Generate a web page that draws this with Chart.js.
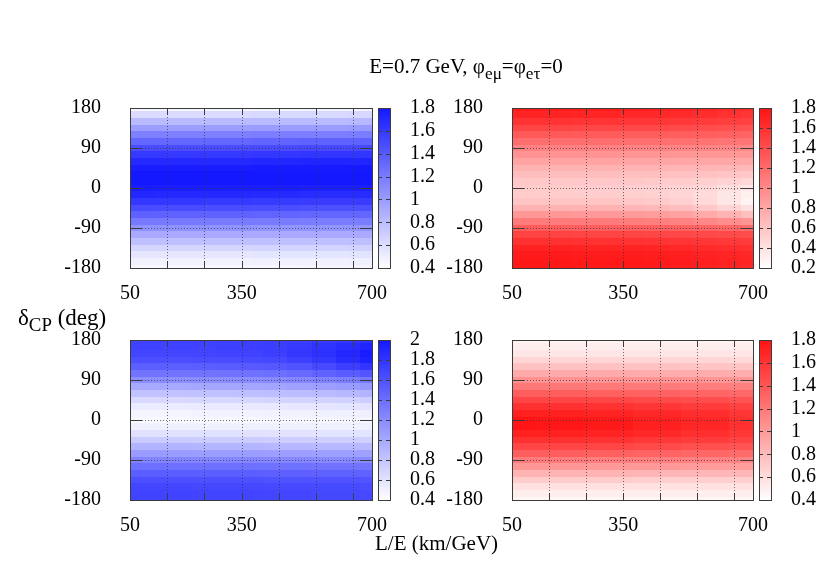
<!DOCTYPE html>
<html>
<head>
<meta charset="utf-8">
<script src="https://cdn.jsdelivr.net/npm/chart.js@4.4.0/dist/chart.umd.min.js"></script>
<style>
  body { margin: 0; background: #fff; }
  #wrap { position: relative; width: 830px; height: 581px; font-family: "Liberation Serif", "Times New Roman", serif; color: #000; }
  #wrap canvas { position: absolute; left: 0; top: 0; }
  .lbl { position: absolute; white-space: nowrap; line-height: 1; }
  .lbl sub { font-size: 82%; vertical-align: baseline; position: relative; top: 0.32em; }
</style>
</head>
<body>
<div id="wrap">
  <canvas id="tl" width="830" height="581"></canvas>
  <canvas id="tr" width="830" height="581"></canvas>
  <canvas id="bl" width="830" height="581"></canvas>
  <canvas id="br" width="830" height="581"></canvas>
  <div class="lbl" style="left:466px;top:56px;font-size:21px;transform:translateX(-50%)">E=0.7 GeV, φ<sub>eμ</sub>=φ<sub>eτ</sub>=0</div>
  <div class="lbl" style="left:18px;top:306px;font-size:23px">δ<sub>CP</sub> (deg)</div>
  <div class="lbl" style="left:375px;top:533px;font-size:21px">L/E (km/GeV)</div>
</div>
<script>
// L/E nodes (km/GeV) and delta_CP nodes (deg)
const xNodesCoarse = [50, 180, 310, 440, 570, 700];
const xNodesFine = [50, 115, 180, 245, 310, 375, 440, 505, 570, 635, 700];
const dcpNodes = [-180, -165, -150, -135, -120, -105, -90, -75, -60, -45, -30, -15, 0,
                  15, 30, 45, 60, 75, 90, 105, 120, 135, 150, 165, 180];

// axis ticks
const xTickValues = [50, 150, 250, 350, 450, 550, 650, 700];
const xTickLabels = [50, 350, 700];
const xGridValues = [150, 250, 350, 450, 550, 650];
const yTickValues = [-180, -90, 0, 90, 180];
const yGridValues = [-90, 0, 90];

// colorbar ticks
const cbTicksTL = [0.4, 0.6, 0.8, 1.0, 1.2, 1.4, 1.6, 1.8];
const cbTicksTR = [0.2, 0.4, 0.6, 0.8, 1.0, 1.2, 1.4, 1.6, 1.8];
const cbTicksBL = [0.4, 0.6, 0.8, 1.0, 1.2, 1.4, 1.6, 1.8, 2.0];
const cbTicksBR = [0.4, 0.6, 0.8, 1.0, 1.2, 1.4, 1.6, 1.8];

// values, one row per dcp node, columns follow the x nodes
const valuesTL = [
  [0.45, 0.45, 0.45, 0.45, 0.46, 0.46],
  [0.48, 0.48, 0.48, 0.49, 0.49, 0.50],
  [0.55, 0.55, 0.55, 0.56, 0.56, 0.57],
  [0.65, 0.65, 0.65, 0.66, 0.66, 0.67],
  [0.78, 0.78, 0.78, 0.78, 0.78, 0.79],
  [0.92, 0.92, 0.92, 0.92, 0.92, 0.92],
  [1.06, 1.06, 1.06, 1.05, 1.05, 1.05],
  [1.21, 1.21, 1.20, 1.20, 1.19, 1.19],
  [1.36, 1.35, 1.35, 1.34, 1.33, 1.33],
  [1.49, 1.49, 1.48, 1.47, 1.46, 1.46],
  [1.61, 1.61, 1.60, 1.59, 1.58, 1.58],
  [1.71, 1.70, 1.70, 1.69, 1.68, 1.68],
  [1.77, 1.77, 1.76, 1.76, 1.75, 1.75],
  [1.80, 1.80, 1.80, 1.80, 1.80, 1.80],
  [1.80, 1.80, 1.80, 1.81, 1.81, 1.81],
  [1.77, 1.77, 1.77, 1.78, 1.78, 1.79],
  [1.70, 1.70, 1.70, 1.71, 1.72, 1.72],
  [1.60, 1.60, 1.60, 1.61, 1.62, 1.62],
  [1.48, 1.48, 1.48, 1.49, 1.50, 1.50],
  [1.33, 1.33, 1.33, 1.34, 1.35, 1.35],
  [1.17, 1.17, 1.17, 1.18, 1.18, 1.19],
  [0.99, 0.99, 0.99, 1.00, 1.00, 1.01],
  [0.81, 0.81, 0.81, 0.82, 0.82, 0.83],
  [0.62, 0.62, 0.62, 0.63, 0.63, 0.64],
  [0.46, 0.46, 0.46, 0.46, 0.47, 0.47]
];

const valuesTR = [
  [1.76, 1.76, 1.76, 1.75, 1.75, 1.75, 1.74, 1.72, 1.70, 1.68, 1.66],
  [1.76, 1.76, 1.76, 1.75, 1.75, 1.75, 1.74, 1.73, 1.71, 1.69, 1.67],
  [1.74, 1.74, 1.74, 1.73, 1.73, 1.73, 1.72, 1.71, 1.69, 1.67, 1.65],
  [1.69, 1.69, 1.69, 1.68, 1.68, 1.68, 1.67, 1.66, 1.64, 1.62, 1.60],
  [1.60, 1.60, 1.60, 1.59, 1.59, 1.59, 1.58, 1.57, 1.56, 1.54, 1.52],
  [1.47, 1.47, 1.47, 1.46, 1.46, 1.46, 1.45, 1.44, 1.43, 1.42, 1.40],
  [1.30, 1.30, 1.30, 1.29, 1.29, 1.29, 1.28, 1.27, 1.25, 1.23, 1.20],
  [1.10, 1.10, 1.10, 1.09, 1.09, 1.08, 1.07, 1.05, 1.01, 0.97, 0.92],
  [0.90, 0.90, 0.90, 0.89, 0.89, 0.88, 0.86, 0.83, 0.78, 0.72, 0.64],
  [0.72, 0.72, 0.72, 0.71, 0.71, 0.70, 0.68, 0.64, 0.58, 0.50, 0.42],
  [0.60, 0.60, 0.60, 0.59, 0.59, 0.58, 0.56, 0.52, 0.46, 0.37, 0.28],
  [0.55, 0.55, 0.55, 0.54, 0.54, 0.53, 0.51, 0.48, 0.44, 0.37, 0.30],
  [0.55, 0.55, 0.55, 0.54, 0.54, 0.53, 0.52, 0.50, 0.47, 0.42, 0.37],
  [0.58, 0.58, 0.58, 0.58, 0.58, 0.57, 0.56, 0.55, 0.53, 0.50, 0.47],
  [0.64, 0.64, 0.64, 0.64, 0.64, 0.63, 0.63, 0.62, 0.61, 0.60, 0.58],
  [0.72, 0.72, 0.72, 0.72, 0.72, 0.71, 0.71, 0.70, 0.70, 0.69, 0.68],
  [0.82, 0.82, 0.82, 0.82, 0.82, 0.81, 0.81, 0.81, 0.80, 0.80, 0.79],
  [0.93, 0.93, 0.93, 0.93, 0.93, 0.92, 0.92, 0.91, 0.91, 0.90, 0.90],
  [1.05, 1.05, 1.05, 1.05, 1.05, 1.04, 1.04, 1.03, 1.03, 1.02, 1.01],
  [1.18, 1.18, 1.18, 1.18, 1.18, 1.17, 1.17, 1.16, 1.15, 1.14, 1.13],
  [1.32, 1.32, 1.32, 1.31, 1.31, 1.30, 1.30, 1.29, 1.28, 1.27, 1.25],
  [1.46, 1.46, 1.46, 1.45, 1.45, 1.44, 1.44, 1.42, 1.41, 1.39, 1.37],
  [1.58, 1.58, 1.58, 1.57, 1.57, 1.56, 1.56, 1.54, 1.52, 1.50, 1.48],
  [1.68, 1.68, 1.68, 1.67, 1.67, 1.66, 1.65, 1.63, 1.61, 1.59, 1.56],
  [1.74, 1.74, 1.74, 1.73, 1.73, 1.72, 1.71, 1.69, 1.67, 1.64, 1.61]
];

const valuesBL = [
  [1.70, 1.70, 1.70, 1.69, 1.69, 1.69, 1.68, 1.68, 1.67, 1.67, 1.66],
  [1.70, 1.70, 1.70, 1.69, 1.69, 1.69, 1.68, 1.68, 1.67, 1.67, 1.66],
  [1.68, 1.68, 1.68, 1.67, 1.67, 1.67, 1.66, 1.66, 1.65, 1.65, 1.64],
  [1.62, 1.62, 1.62, 1.61, 1.61, 1.61, 1.60, 1.60, 1.59, 1.59, 1.58],
  [1.52, 1.52, 1.52, 1.51, 1.51, 1.51, 1.50, 1.50, 1.49, 1.49, 1.48],
  [1.40, 1.40, 1.40, 1.39, 1.39, 1.39, 1.38, 1.38, 1.37, 1.37, 1.36],
  [1.25, 1.25, 1.25, 1.24, 1.24, 1.24, 1.23, 1.23, 1.22, 1.22, 1.21],
  [1.09, 1.09, 1.09, 1.08, 1.08, 1.08, 1.07, 1.07, 1.06, 1.06, 1.05],
  [0.92, 0.92, 0.92, 0.91, 0.91, 0.91, 0.90, 0.90, 0.89, 0.89, 0.88],
  [0.76, 0.76, 0.76, 0.75, 0.75, 0.75, 0.74, 0.74, 0.73, 0.73, 0.72],
  [0.61, 0.61, 0.61, 0.61, 0.61, 0.60, 0.60, 0.60, 0.59, 0.59, 0.59],
  [0.50, 0.50, 0.50, 0.50, 0.50, 0.50, 0.50, 0.50, 0.50, 0.50, 0.50],
  [0.45, 0.45, 0.45, 0.45, 0.45, 0.45, 0.46, 0.46, 0.46, 0.47, 0.47],
  [0.47, 0.47, 0.47, 0.48, 0.48, 0.48, 0.49, 0.49, 0.50, 0.50, 0.51],
  [0.54, 0.54, 0.54, 0.55, 0.55, 0.56, 0.56, 0.57, 0.58, 0.59, 0.60],
  [0.66, 0.66, 0.66, 0.67, 0.67, 0.68, 0.69, 0.70, 0.71, 0.72, 0.74],
  [0.82, 0.82, 0.82, 0.83, 0.83, 0.84, 0.85, 0.86, 0.88, 0.90, 0.92],
  [1.00, 1.00, 1.00, 1.01, 1.01, 1.02, 1.03, 1.05, 1.07, 1.09, 1.12],
  [1.18, 1.18, 1.18, 1.19, 1.19, 1.20, 1.22, 1.24, 1.27, 1.30, 1.34],
  [1.36, 1.36, 1.36, 1.37, 1.37, 1.38, 1.40, 1.43, 1.48, 1.53, 1.58],
  [1.51, 1.51, 1.51, 1.52, 1.53, 1.54, 1.56, 1.60, 1.66, 1.73, 1.80],
  [1.62, 1.62, 1.62, 1.63, 1.64, 1.65, 1.67, 1.72, 1.78, 1.86, 1.93],
  [1.68, 1.68, 1.68, 1.69, 1.70, 1.71, 1.73, 1.78, 1.83, 1.90, 1.97],
  [1.71, 1.71, 1.71, 1.71, 1.72, 1.73, 1.74, 1.77, 1.81, 1.86, 1.92],
  [1.71, 1.71, 1.71, 1.71, 1.72, 1.72, 1.73, 1.74, 1.76, 1.79, 1.82]
];

const valuesBR = [
  [0.45, 0.45, 0.45, 0.45, 0.45, 0.45],
  [0.50, 0.50, 0.50, 0.50, 0.50, 0.50],
  [0.58, 0.58, 0.58, 0.58, 0.58, 0.58],
  [0.70, 0.70, 0.70, 0.69, 0.69, 0.69],
  [0.85, 0.85, 0.85, 0.84, 0.83, 0.83],
  [1.02, 1.02, 1.01, 1.00, 0.99, 0.98],
  [1.18, 1.18, 1.17, 1.16, 1.15, 1.13],
  [1.35, 1.35, 1.34, 1.32, 1.30, 1.28],
  [1.50, 1.50, 1.49, 1.47, 1.44, 1.41],
  [1.62, 1.62, 1.61, 1.58, 1.55, 1.51],
  [1.72, 1.72, 1.70, 1.67, 1.63, 1.58],
  [1.78, 1.77, 1.75, 1.72, 1.68, 1.62],
  [1.78, 1.77, 1.75, 1.72, 1.68, 1.62],
  [1.72, 1.72, 1.70, 1.67, 1.64, 1.59],
  [1.62, 1.62, 1.61, 1.59, 1.56, 1.52],
  [1.50, 1.50, 1.49, 1.47, 1.45, 1.42],
  [1.35, 1.35, 1.34, 1.33, 1.31, 1.29],
  [1.20, 1.20, 1.19, 1.18, 1.17, 1.16],
  [1.05, 1.05, 1.04, 1.04, 1.03, 1.02],
  [0.90, 0.90, 0.90, 0.89, 0.89, 0.88],
  [0.76, 0.76, 0.76, 0.76, 0.75, 0.75],
  [0.64, 0.64, 0.64, 0.64, 0.64, 0.63],
  [0.55, 0.55, 0.55, 0.55, 0.55, 0.55],
  [0.50, 0.50, 0.50, 0.50, 0.50, 0.50],
  [0.47, 0.47, 0.47, 0.47, 0.47, 0.47]
];

const BLUE = [20, 24, 255];
const RED = [255, 18, 18];
const FRAME = '#3c3c3c';

Chart.defaults.font.family = '"Liberation Serif", "Times New Roman", serif';
Chart.defaults.font.size = 20;
Chart.defaults.color = '#000';

function shade(rgb, t) {
  t = Math.max(0, Math.min(1, t));
  const c = rgb.map(v => Math.round(255 + (v - 255) * t));
  return 'rgb(' + c.join(',') + ')';
}

// cell edges sit halfway between neighbouring nodes
function edges(nodes) {
  return nodes.map((n, i) => [
    i === 0 ? n : (nodes[i - 1] + n) / 2,
    i === nodes.length - 1 ? n : (n + nodes[i + 1]) / 2
  ]);
}

function toPoints(xNodes, values) {
  const xe = edges(xNodes), ye = edges(dcpNodes);
  const pts = [];
  dcpNodes.forEach((d, i) => {
    xNodes.forEach((x, j) => pts.push({
      x: x, y: d, v: values[i][j],
      x0: xe[j][0], x1: xe[j][1], y0: ye[i][0], y1: ye[i][1]
    }));
  });
  return pts;
}

// draws the cells of the map and the colorbar
const heatmapPlugin = {
  id: 'heatmap',
  beforeDatasetsDraw(chart, args, opts) {
    const ctx = chart.ctx;
    const xs = chart.scales.x, ys = chart.scales.y, cs = chart.scales.c;
    const span = cs.max - cs.min;
    ctx.save();
    chart.data.datasets[0].data.forEach(p => {
      const l = Math.round(xs.getPixelForValue(p.x0));
      const r = Math.round(xs.getPixelForValue(p.x1));
      const t = Math.round(ys.getPixelForValue(p.y1));
      const b = Math.round(ys.getPixelForValue(p.y0));
      ctx.fillStyle = shade(opts.rgb, (p.v - cs.min) / span);
      ctx.fillRect(l, t, r - l, b - t);
    });

    // colorbar
    const area = chart.chartArea;
    const cx0 = Math.round(area.right) + 6, cx1 = Math.round(area.right) + 18;
    const top = cs.getPixelForValue(cs.max), bot = cs.getPixelForValue(cs.min);
    const g = ctx.createLinearGradient(0, bot, 0, top);
    g.addColorStop(0, shade(opts.rgb, 0));
    g.addColorStop(1, shade(opts.rgb, 1));
    ctx.fillStyle = g;
    ctx.fillRect(cx0, top, cx1 - cx0, bot - top);
    ctx.strokeStyle = FRAME;
    ctx.lineWidth = 1;
    cs.ticks.forEach(tk => {
      const y = Math.round(cs.getPixelForValue(tk.value)) + 0.5;
      ctx.beginPath();
      ctx.moveTo(cx0, y); ctx.lineTo(cx0 + 4, y);
      ctx.moveTo(cx1, y); ctx.lineTo(cx1 - 4, y);
      ctx.stroke();
    });
    ctx.strokeRect(cx0 + 0.5, Math.round(top) + 0.5, cx1 - cx0, Math.round(bot - top));
    ctx.restore();
  },
  afterDatasetsDraw(chart) {
    const ctx = chart.ctx;
    const xs = chart.scales.x, ys = chart.scales.y;
    const a = chart.chartArea;
    ctx.save();
    ctx.lineWidth = 1;
    ctx.strokeStyle = 'rgba(50,50,60,0.7)';
    ctx.setLineDash([1, 2]);
    xGridValues.forEach(v => {
      const x = Math.round(xs.getPixelForValue(v)) + 0.5;
      ctx.beginPath(); ctx.moveTo(x, a.top); ctx.lineTo(x, a.bottom); ctx.stroke();
    });
    yGridValues.forEach(v => {
      const y = Math.round(ys.getPixelForValue(v)) + 0.5;
      ctx.beginPath(); ctx.moveTo(a.left, y); ctx.lineTo(a.right, y); ctx.stroke();
    });
    ctx.setLineDash([]);
    ctx.strokeStyle = FRAME;
    xGridValues.forEach(v => {
      const x = Math.round(xs.getPixelForValue(v)) + 0.5;
      ctx.beginPath();
      ctx.moveTo(x, a.top); ctx.lineTo(x, a.top + 7);
      ctx.moveTo(x, a.bottom); ctx.lineTo(x, a.bottom - 7);
      ctx.stroke();
    });
    yGridValues.forEach(v => {
      const y = Math.round(ys.getPixelForValue(v)) + 0.5;
      ctx.beginPath();
      ctx.moveTo(a.left, y); ctx.lineTo(a.left + 12, y);
      ctx.moveTo(a.right, y); ctx.lineTo(a.right - 12, y);
      ctx.stroke();
    });
    ctx.strokeRect(Math.round(a.left) + 0.5, Math.round(a.top) + 0.5,
                   Math.round(a.right - a.left), Math.round(a.bottom - a.top));
    ctx.restore();
  }
};

function makePanel(id, xNodes, values, rgb, cTicks, pad) {
  return new Chart(document.getElementById(id), {
    type: 'scatter',
    data: {
      datasets: [{
        data: toPoints(xNodes, values),
        pointRadius: 0,
        pointHoverRadius: 0
      }]
    },
    options: {
      responsive: false,
      animation: false,
      events: [],
      layout: { padding: pad },
      plugins: {
        legend: { display: false },
        tooltip: { enabled: false },
        heatmap: { rgb: rgb }
      },
      scales: {
        x: {
          type: 'linear', min: 50, max: 700,
          afterBuildTicks: s => { s.ticks = xTickValues.map(v => ({ value: v })); },
          afterFit: s => { s.height = 40; },
          grid: { display: false },
          border: { display: false },
          ticks: {
            autoSkip: false, maxRotation: 0, padding: 6,
            callback: v => xTickLabels.includes(v) ? String(v) : ''
          }
        },
        y: {
          type: 'linear', min: -180, max: 180,
          afterBuildTicks: s => { s.ticks = yTickValues.map(v => ({ value: v })); },
          afterFit: s => { s.width = 90; },
          grid: { display: false },
          border: { display: false },
          ticks: { padding: 21, autoSkip: false }
        },
        c: {
          type: 'linear', position: 'right',
          min: cTicks[0], max: cTicks[cTicks.length - 1],
          afterBuildTicks: s => { s.ticks = cTicks.map(v => ({ value: v })); },
          afterFit: s => { s.width = 70; },
          grid: { display: false },
          border: { display: false },
          ticks: { padding: 30, autoSkip: false, callback: v => String(+v.toFixed(1)) }
        }
      }
    },
    plugins: [heatmapPlugin]
  });
}

makePanel('tl', xNodesCoarse, valuesTL, BLUE, cbTicksTL, { left: 40, right: 388, top: 108, bottom: 273 });
makePanel('tr', xNodesFine, valuesTR, RED, cbTicksTR, { left: 422, right: 7, top: 108, bottom: 273 });
makePanel('bl', xNodesFine, valuesBL, BLUE, cbTicksBL, { left: 40, right: 388, top: 340, bottom: 41 });
makePanel('br', xNodesCoarse, valuesBR, RED, cbTicksBR, { left: 422, right: 7, top: 340, bottom: 41 });
</script>
</body>
</html>
